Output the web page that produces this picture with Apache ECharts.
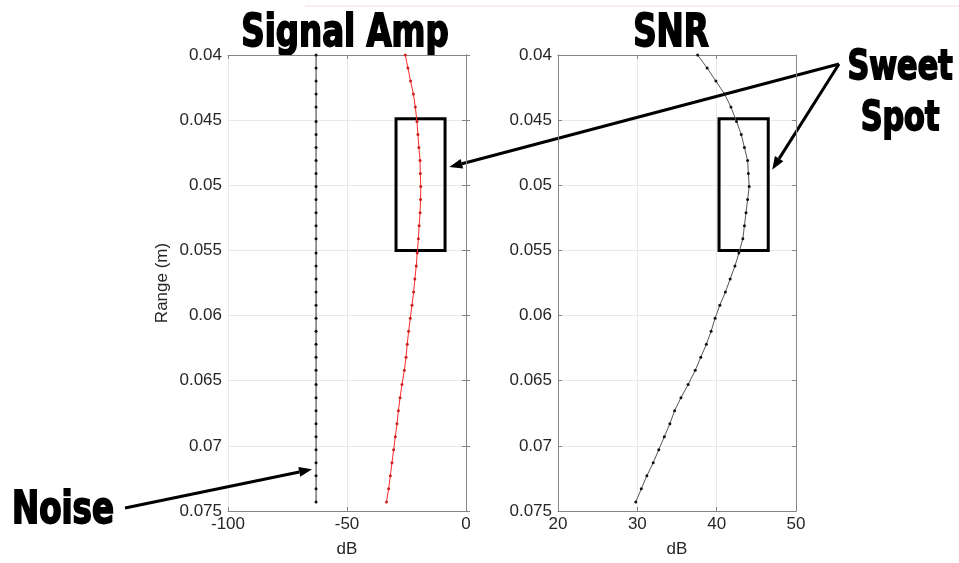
<!DOCTYPE html>
<html>
<head>
<meta charset="utf-8">
<script src="https://cdn.jsdelivr.net/npm/echarts@6/dist/echarts.min.js"></script>
<style>
  html, body { margin: 0; padding: 0; background: #ffffff; }
  #chart { width: 959px; height: 563px; }
</style>
</head>
<body>
<div id="chart"></div>
<script>
// Range samples (m) along the beam
const rangeM = [
  0.0400, 0.0410, 0.0420, 0.0430, 0.0440, 0.0451, 0.0461, 0.0471, 0.0481, 0.0491,
  0.0501, 0.0511, 0.0521, 0.0531, 0.0541, 0.0552, 0.0562, 0.0572, 0.0582, 0.0592,
  0.0602, 0.0612, 0.0622, 0.0632, 0.0642, 0.0653, 0.0663, 0.0673, 0.0683, 0.0693,
  0.0703, 0.0713, 0.0723, 0.0733, 0.0743
];
// Noise floor (dB)
const noiseDb = [
  -63, -63, -63, -63, -63, -63, -63, -63, -63, -63,
  -63, -63, -63, -63, -63, -63, -63, -63, -63, -63,
  -63, -63, -63, -63, -63, -63, -63, -63, -63, -63,
  -63, -63, -63, -63, -63
];
// Received signal amplitude (dB)
const signalDb = [
  -25.5, -24.4, -23.3, -22.1, -21.3, -20.6, -20.2, -19.8, -19.3, -19.2,
  -19.0, -19.1, -19.3, -19.7, -20.0, -20.5, -20.9, -21.5, -22.0, -22.7,
  -23.4, -24.1, -24.7, -25.2, -25.9, -26.9, -27.7, -28.4, -29.0, -29.7,
  -30.4, -31.1, -31.8, -32.5, -33.4
];
// Signal-to-noise ratio (dB)
const snrDb = [
  37.6, 38.8, 39.9, 41.0, 41.8, 42.5, 43.1, 43.5, 43.9, 44.0,
  44.1, 43.9, 43.7, 43.5, 43.3, 42.8, 42.3, 41.7, 41.1, 40.4,
  39.8, 39.3, 38.7, 38.0, 37.3, 36.4, 35.5, 34.7, 34.1, 33.4,
  32.7, 32.0, 31.2, 30.5, 29.8
];

// Axis limits / tick spacing
const rangeAxis = { min: 0.04, max: 0.075, step: 0.005 };
const ampAxis = { min: -100, max: 0, step: 50 };
const snrAxis = { min: 20, max: 50, step: 10 };

// Highlighted "sweet spot" windows: [x0, x1] in dB, [y0, y1] in m
const sweetSpotRange = [0.0449, 0.055];
const sweetSpotAmp = [-29.4, -8.8];
const sweetSpotSnr = [40.3, 46.5];

const pairs = (xs) => xs.map((v, i) => [v, rangeM[i]]);

const TEXT = '#262626';
const FRAME = '#858585';
const GRID_LINE = '#e9e9e9';
const tickFont = { fontFamily: 'Liberation Sans, Arial, sans-serif', fontSize: 17, color: TEXT };

function mainX(gridIndex, lim) {
  return {
    type: 'value', gridIndex, position: 'bottom',
    min: lim.min, max: lim.max, interval: lim.step,
    name: 'dB', nameLocation: 'middle', nameGap: 30,
    nameTextStyle: tickFont,
    axisLine: { show: true, lineStyle: { color: FRAME, width: 1 } },
    axisTick: { show: true, inside: true, length: 4, lineStyle: { color: FRAME } },
    axisLabel: Object.assign({ margin: 5 }, tickFont),
    splitLine: { show: true, lineStyle: { color: GRID_LINE, width: 1 } }
  };
}
function mirrorX(gridIndex, lim) {
  return {
    type: 'value', gridIndex, position: 'top',
    min: lim.min, max: lim.max, interval: lim.step,
    axisLine: { show: true, lineStyle: { color: FRAME, width: 1 } },
    axisTick: { show: true, inside: true, length: 4, lineStyle: { color: FRAME } },
    axisLabel: { show: false }, splitLine: { show: false }
  };
}
function mainY(gridIndex, withName) {
  return {
    type: 'value', gridIndex, position: 'left', inverse: true,
    min: rangeAxis.min, max: rangeAxis.max, interval: rangeAxis.step,
    name: withName ? 'Range (m)' : '', nameLocation: 'middle', nameGap: 57,
    nameTextStyle: tickFont,
    axisLine: { show: true, lineStyle: { color: FRAME, width: 1 } },
    axisTick: { show: true, inside: true, length: 4, lineStyle: { color: FRAME } },
    axisLabel: Object.assign({ margin: 6, formatter: (v) => String(+v.toFixed(3)) }, tickFont),
    splitLine: { show: true, lineStyle: { color: GRID_LINE, width: 1 } }
  };
}
function mirrorY(gridIndex) {
  return {
    type: 'value', gridIndex, position: 'right', inverse: true,
    min: rangeAxis.min, max: rangeAxis.max, interval: rangeAxis.step,
    axisLine: { show: true, lineStyle: { color: FRAME, width: 1 } },
    axisTick: { show: true, inside: true, length: 4, lineStyle: { color: FRAME } },
    axisLabel: { show: false }, splitLine: { show: false }
  };
}
function boxArea(xr) {
  return {
    silent: true,
    itemStyle: { color: 'rgba(0,0,0,0)', borderColor: '#000', borderWidth: 3 },
    data: [[{ coord: [xr[0], sweetSpotRange[0]] }, { coord: [xr[1], sweetSpotRange[1]] }]]
  };
}

const chart = echarts.init(document.getElementById('chart'), null, { renderer: 'canvas' });

chart.setOption({
  animation: false,
  backgroundColor: '#ffffff',
  grid: [
    { left: 228, top: 55, width: 238, height: 459 },
    { left: 558, top: 55, width: 238, height: 459 }
  ],
  xAxis: [mainX(0, ampAxis), mirrorX(0, ampAxis), mainX(1, snrAxis), mirrorX(1, snrAxis)],
  yAxis: [mainY(0, true), mirrorY(0), mainY(1, false), mirrorY(1)],
  series: [
    {
      name: 'Noise', type: 'line', xAxisIndex: 0, yAxisIndex: 0,
      data: pairs(noiseDb), symbol: 'circle', symbolSize: 3,
      lineStyle: { color: '#333333', width: 1 }, itemStyle: { color: '#111111' }
    },
    {
      name: 'Signal', type: 'line', xAxisIndex: 0, yAxisIndex: 0,
      data: pairs(signalDb), symbol: 'circle', symbolSize: 3,
      lineStyle: { color: '#ff2a2a', width: 1 }, itemStyle: { color: '#cc1f1f' },
      markArea: boxArea(sweetSpotAmp)
    },
    {
      name: 'SNR', type: 'line', xAxisIndex: 2, yAxisIndex: 2,
      data: pairs(snrDb), symbol: 'circle', symbolSize: 3,
      lineStyle: { color: '#555555', width: 1 }, itemStyle: { color: '#111111' },
      markArea: boxArea(sweetSpotSnr)
    }
  ]
});

// Annotation arrows, anchored to points in data space
const ampTip = chart.convertToPixel({ xAxisIndex: 0, yAxisIndex: 0 }, [-7.0, 0.0486]);
const snrTip = chart.convertToPixel({ xAxisIndex: 2, yAxisIndex: 2 }, [47.0, 0.0488]);
const noiseTip = chart.convertToPixel({ xAxisIndex: 0, yAxisIndex: 0 }, [-64.7, 0.0718]);

function arrow(from, to) {
  const dx = to[0] - from[0], dy = to[1] - from[1];
  const len = Math.hypot(dx, dy);
  const ux = dx / len, uy = dy / len;
  const headLen = 13, headHalf = 5;
  const bx = to[0] - ux * headLen, by = to[1] - uy * headLen;
  return [
    { type: 'line', shape: { x1: from[0], y1: from[1], x2: bx, y2: by },
      style: { stroke: '#000', lineWidth: 3 }, silent: true },
    { type: 'polygon', shape: { points: [
        to, [bx - uy * headHalf, by + ux * headHalf], [bx + uy * headHalf, by - ux * headHalf]
      ] }, style: { fill: '#000' }, silent: true }
  ];
}

function heading(text, x, y, size, sx) {
  return {
    type: 'text', x, y, scaleX: sx, silent: true,
    style: {
      text, x: 0, y: 0, align: 'center', verticalAlign: 'middle',
      font: 'bold ' + size + 'px "DejaVu Sans Condensed", "DejaVu Sans", sans-serif',
      fill: '#000', stroke: '#000', lineWidth: 1.8
    }
  };
}

const apex = [839, 64];
chart.setOption({
  graphic: [
    { type: 'line', shape: { x1: 305, y1: 6, x2: 959, y2: 6 }, style: { stroke: '#f7dde3', lineWidth: 1 }, silent: true },
    heading('Signal Amp', 345, 35, 44, 0.82),
    heading('SNR', 671, 35, 44, 0.82),
    heading('Sweet', 900, 68, 41, 0.82),
    heading('Spot', 900, 119, 41, 0.82),
    heading('Noise', 63, 512, 44, 0.82),
    ...arrow(apex, ampTip),
    ...arrow(apex, snrTip),
    ...arrow([125, 508], noiseTip)
  ]
});
</script>
</body>
</html>
